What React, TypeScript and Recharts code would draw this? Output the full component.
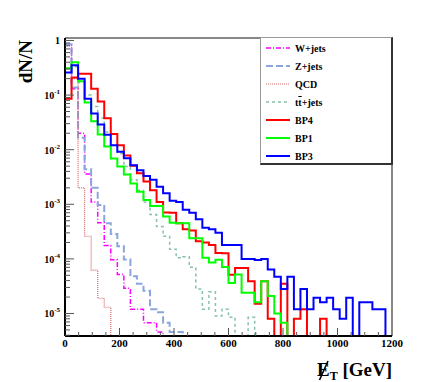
import React from "react"
import { LineChart, Line, XAxis, YAxis, ReferenceLine } from "recharts"

// 50 bins of 24 GeV, 0-1200 GeV, normalised (dN/N)
const BIN_WIDTH = 24
const N_BINS = 50

const W_JETS = [0.85, 0.13, 0.02, 0.0036, 0.0011, 4.6e-4, 1.75e-4, 9.6e-5, 5.2e-5, 2.9e-5, 1.2e-5, 1.2e-5, 6.8e-6, 6.8e-6, 4.6e-6]
const Z_JETS = [0.85, 0.137, 0.0166, 0.0044, 0.002, 9.7e-4, 4.5e-4, 2.85e-4, 1.7e-4, 9.7e-5, 4.8e-5, 3.5e-5, 2.6e-5, 1.2e-5, 1.05e-5, 6.8e-6, 4.6e-6, 4.6e-6]
const QCD = [0.8, 0.2, 0.002, 2.6e-4, 6.2e-5, 1.9e-5, 1.3e-5]
const TT_JETS = [
  0.3, 0.33, 0.17, 0.1, 0.062, 0.038, 0.021, 0.012, 0.0085, 0.0049, 0.0028, 0.0018, 0.0011, 6.5e-4, 3.9e-4, 2.6e-4,
  1.5e-4, 1.05e-4, 1.1e-4, 7.0e-5, 2.8e-5, 1.2e-5, 2.5e-5, 9e-6, 1.2e-5, 8.5e-6, 0, 0, 8.5e-6,
]
const BP4 = [
  0.086, 0.21, 0.245, 0.245, 0.13, 0.076, 0.0375, 0.0194, 0.012, 0.0078, 0.0051, 0.0037, 0.0026, 0.0018, 0.0011, 7.1e-4,
  7.0e-4, 4.5e-4, 3.5e-4, 3.3e-4, 2.1e-4, 2.0e-4, 1.8e-4, 1.28e-4, 1.27e-4, 5.1e-5, 6.8e-5, 6.8e-5, 3.9e-5, 1.5e-5,
  3.9e-5, 8e-6, 0, 3.5e-5, 0, 8e-6, 1.2e-5, 0, 0, 8e-6,
]
const BP1 = [
  0.31, 0.4, 0.18, 0.073, 0.033, 0.019, 0.0114, 0.0069, 0.0049, 0.0035, 0.0024, 0.0017, 0.0012, 9.3e-4, 9.3e-4, 6.0e-4,
  4.6e-4, 4.5e-4, 4.5e-4, 2.4e-4, 2.4e-4, 1.05e-4, 8.6e-5, 9.6e-5, 7.1e-5, 3.6e-5, 5.2e-5, 2.4e-5, 2.4e-5, 1.6e-5,
  3.9e-5, 2.1e-5, 1.0e-5, 6.8e-6,
]
const BP3 = [
  0.26, 0.35, 0.2, 0.086, 0.046, 0.029, 0.0187, 0.012, 0.0092, 0.007, 0.0052, 0.0042, 0.0033, 0.0028, 0.0021, 0.0016,
  0.00116, 0.0011, 7.9e-4, 7.0e-4, 5.3e-4, 3.7e-4, 3.5e-4, 3.0e-4, 1.8e-4, 1.8e-4, 1.8e-4, 1.0e-4, 1.0e-4, 9.5e-5,
  1.0e-4, 6.4e-5, 4.7e-5, 2.8e-5, 4.7e-5, 1.2e-5, 2.8e-5, 1.2e-5, 1.95e-5, 1.6e-5, 1.95e-5, 1.2e-5, 8e-6, 1.95e-5, 0,
  1.6e-5, 1.6e-5, 1.2e-5, 1.2e-5, 0,
]

const X_TICKS = [0, 50, 100, 150, 200, 250, 300, 350, 400, 450, 500, 550, 600, 650, 700, 750, 800, 850, 900, 950, 1000, 1050, 1100, 1150, 1200]
const Y_DECADES = [1e-5, 1e-4, 1e-3, 1e-2, 1e-1, 1]

const YMIN = 3.87e-6
const YMAX = 1.11

const FONT = '"Liberation Serif", "DejaVu Serif", serif'

const SERIES = [
  { key: "w", name: "W+jets", values: W_JETS, color: "#ff00ff", width: 1.5, dash: "5 2 1 2" },
  { key: "z", name: "Z+jets", values: Z_JETS, color: "#8aa6dc", width: 2, dash: "7 3" },
  { key: "qcd", name: "QCD", values: QCD, color: "#d46a6a", width: 1.2, dash: "1 1" },
  { key: "tt", name: "tt+jets", values: TT_JETS, color: "#86c2a6", width: 1.5, dash: "3 3" },
  { key: "bp4", name: "BP4", values: BP4, color: "#ff0000", width: 2, dash: undefined },
  { key: "bp1", name: "BP1", values: BP1, color: "#00ff00", width: 2, dash: undefined },
  { key: "bp3", name: "BP3", values: BP3, color: "#0000ff", width: 2, dash: undefined },
]

// minor log ticks 2..9 per decade
const Y_TICKS: number[] = []
for (let e = -6; e <= 0; e++) {
  for (let m = 1; m <= 9; m++) {
    const v = m * Math.pow(10, e)
    if (v >= YMIN && v <= YMAX) Y_TICKS.push(v)
  }
}

// empty bins sit on the bottom of the frame
const binValue = (arr: number[], i: number) => {
  const v = arr[Math.min(i, N_BINS - 1)] ?? 0
  return v > YMIN ? v : YMIN
}

const data = Array.from({ length: N_BINS + 1 }, (_, i) => {
  const row: Record<string, number> = { x: i * BIN_WIDTH }
  SERIES.forEach((s) => {
    row[s.key] = binValue(s.values, i)
  })
  return row
})

const isDecade = (v: number) => Y_DECADES.some((d) => Math.abs(v / d - 1) < 1e-6)

const YTick = (props: any) => {
  const { x, y, payload } = props
  const v = payload.value
  const major = isDecade(v)
  const exp = Math.round(Math.log10(v))
  return (
    <g>
      <line x1={x} x2={x + (major ? 9 : 5)} y1={y} y2={y} stroke="#555" strokeWidth={1} />
      {major && (
        <text x={60} y={y + 4} textAnchor="end" fontFamily={FONT} fontWeight="bold" fontSize={10} fill="#000">
          {exp === 0 ? (
            "1"
          ) : (
            <>
              10
              <tspan dy={-5} fontSize={7}>
                {exp}
              </tspan>
            </>
          )}
        </text>
      )}
    </g>
  )
}

const XTick = (props: any) => {
  const { x, y, payload } = props
  const v = payload.value
  const major = v % 200 === 0
  return (
    <g>
      {v > 0 && v < 1200 && <line x1={x} x2={x} y1={y} y2={y - (major ? 8 : 4)} stroke="#555" strokeWidth={1} />}
      {major && (
        <text x={x} y={y + 11} textAnchor="middle" fontFamily={FONT} fontWeight="bold" fontSize={11} fill="#000">
          {v}
        </text>
      )}
    </g>
  )
}

// missing-ET symbol: the slash through the E is drawn as a stroke
const XTitle = () => (
  <g>
    <text x={392} y={376} textAnchor="end" fontFamily={FONT} fontWeight="bold" fontSize={19} fill="#000">
      E
      <tspan dy={4} fontSize={12}>
        T
      </tspan>
      <tspan dy={-4} fontSize={19}>
        {" [GeV]"}
      </tspan>
    </text>
    <line x1={319.5} y1={380} x2={328} y2={361} stroke="#000" strokeWidth={1.6} />
  </g>
)

const YTitle = () => (
  <text
    x={32}
    y={40}
    transform="rotate(-90, 32, 40)"
    textAnchor="end"
    fontFamily={FONT}
    fontWeight="bold"
    fontSize={19}
    fill="#000"
  >
    dN/N
  </text>
)

function LegendBox() {
  return (
    <div
      style={{
        position: "absolute",
        left: 260,
        top: 37,
        width: 130,
        height: 125,
        background: "#fff",
        borderLeft: "1px solid #999",
        borderTop: "1px solid #999",
        borderRight: "2px solid #333",
        borderBottom: "2px solid #333",
        fontFamily: FONT,
        fontWeight: "bold",
        fontSize: 10,
      }}
    >
      {SERIES.map((s, i) => (
        <div key={s.key} style={{ position: "absolute", left: 5, top: 3 + i * 18, height: 14, display: "flex", alignItems: "center" }}>
          <svg width={24} height={4} style={{ display: "block" }}>
            <line x1={0} x2={24} y1={2} y2={2} stroke={s.color} strokeWidth={s.width} strokeDasharray={s.dash} />
          </svg>
          <span style={{ marginLeft: 5 }}>
            {s.key === "tt" ? (
              <>
                t<span style={{ textDecoration: "overline" }}>t</span>+jets
              </>
            ) : (
              s.name
            )}
          </span>
        </div>
      ))}
    </div>
  )
}

export default function App() {
  return (
    <div style={{ position: "absolute", left: 0, top: 0, width: 436, height: 382, background: "#fff" }}>
      <LineChart width={436} height={382} data={data} margin={{ top: 38, right: 44, bottom: 0, left: 0 }}>
        <XAxis
          type="number"
          dataKey="x"
          domain={[0, 1200]}
          ticks={X_TICKS}
          interval={0}
          allowDataOverflow
          height={46}
          tickSize={0}
          tickMargin={0}
          tickLine={false}
          tick={XTick}
          axisLine={{ stroke: "#000", strokeWidth: 2 }}
          label={<XTitle />}
        />
        <YAxis
          type="number"
          scale="log"
          domain={[YMIN, YMAX]}
          ticks={Y_TICKS}
          interval={0}
          allowDataOverflow
          width={65}
          tickSize={0}
          tickMargin={0}
          tickLine={false}
          tick={YTick}
          axisLine={{ stroke: "#000", strokeWidth: 2 }}
          label={<YTitle />}
        />
        <ReferenceLine y={YMAX} stroke="#888" strokeWidth={2} />
        <ReferenceLine x={1200} stroke="#888" strokeWidth={2} />
        {SERIES.map((s) => (
          <Line
            key={s.key}
            type="stepAfter"
            dataKey={s.key}
            stroke={s.color}
            strokeWidth={s.width}
            strokeDasharray={s.dash}
            dot={false}
            activeDot={false}
            isAnimationActive={false}
          />
        ))}
      </LineChart>
      <LegendBox />
    </div>
  )
}
